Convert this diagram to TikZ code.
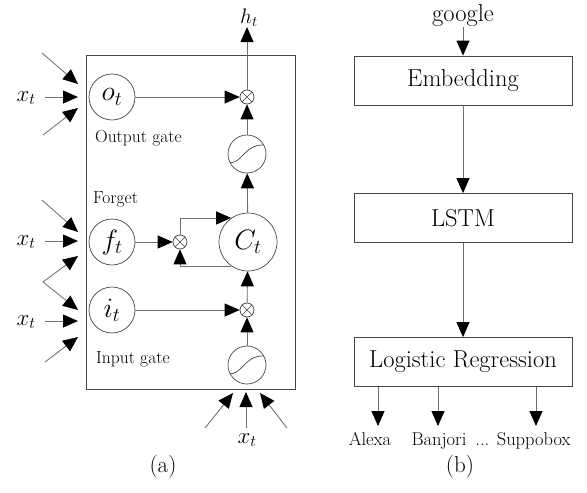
\RequirePackage{fix-cm}
\documentclass[tikz,border=0pt]{standalone}
\usetikzlibrary{arrows.meta}
\definecolor{linegray}{HTML}{707070}
\definecolor{edgegray}{HTML}{454545}

\begin{document}
\begin{tikzpicture}[x=1pt,y=-1pt,
  line/.style={draw=linegray, line width=0.85pt},
  arr/.style={line, -{Triangle[length=15pt,width=13pt,color=black]}},
  unit/.style={circle, draw=edgegray, line width=0.7pt, inner sep=0pt,
    minimum size=46pt, font=\fontsize{28}{32}\selectfont},
  cell/.style={unit, minimum size=58pt},
  mult/.style={circle, draw=edgegray, line width=0.7pt, inner sep=0pt,
    minimum size=14pt,
    path picture={\draw[edgegray, line width=0.6pt,
      shift={(path picture bounding box.center)}]
      (45:7pt) -- (225:7pt) (135:7pt) -- (315:7pt);}},
  sigm/.style={circle, draw=edgegray, line width=0.7pt, inner sep=0pt,
    minimum size=38pt,
    path picture={\draw[edgegray, line width=0.7pt,
      shift={(path picture bounding box.center)}]
      (-18pt,-9pt) .. controls (-4pt,-9pt) and (-3pt,9pt) .. (16pt,9pt);}},
  block/.style={draw=edgegray, line width=0.8pt, minimum width=218pt,
    minimum height=49pt, inner sep=0pt, font=\fontsize{24.5}{28}\selectfont},
  gatelbl/.style={anchor=base west, inner sep=0pt, font=\fontsize{17.5}{21}\selectfont},
  inlbl/.style={inner sep=0pt, font=\fontsize{23}{27}\selectfont},
  outlbl/.style={anchor=base, inner sep=0pt, font=\fontsize{18.5}{22}\selectfont},
  caplbl/.style={inner sep=0pt, font=\fontsize{23}{27}\selectfont}
]
\path[use as bounding box] (0,0) rectangle (587,493);

% ---------------- (a) LSTM cell ----------------
\node[draw=edgegray, line width=0.8pt, minimum width=209pt, minimum height=334pt,
  inner sep=0pt] (cellbox) at (190.5,222) {};

\node[unit] (ot) at (112,97) {$o_t$};
\node[unit] (ft) at (112,242) {$f_t$};
\node[unit] (it) at (112,310) {$i_t$};
\node[cell] (ct) at (248,242) {$C_t$};
\node[mult] (mo) at (247,97) {};
\node[mult] (mf) at (180,242) {};
\node[mult] (mi) at (247,310) {};
\node[sigm] (so) at (247,154) {};
\node[sigm] (si) at (247,365) {};

\node[gatelbl] (lo) at (95,142) {Output gate};
\node[gatelbl] (lf) at (93,203) {Forget};
\node[gatelbl] (li) at (96,363) {Input gate};

\node[inlbl, font=\fontsize{21}{25}\selectfont] (ht) at (249,18) {$h_t$};

% internal flow
\draw[arr] (ot) -- (mo);
\draw[arr] (mo.north) -- (mo.north |- ht.south);
\draw[arr] (so) -- (mo);
\draw[arr] (ct) -- (so);
\draw[arr] (ft) -- (mf);
\draw[arr] (mf.north) |- (ct.125);
\draw[arr] (ct.235) -| (mf.south);
\draw[arr] (it) -- (mi);
\draw[arr] (mi) -- (ct);
\draw[arr] (si) -- (mi);

% inputs x_t on the left
\node[inlbl] (xo) at (26,98) {$x_t$};
\node[inlbl] (xf) at (26,242) {$x_t$};
\node[inlbl] (xi) at (26,322) {$x_t$};

\coordinate (o1) at (42,53);   \coordinate (o1t) at (78,84);
\coordinate (o2t) at (78,97);
\coordinate (o3) at (43,135);  \coordinate (o3t) at (78,108);
\coordinate (f1) at (42,200);  \coordinate (f1t) at (78,232);
\coordinate (f2t) at (78,241);
\coordinate (fv) at (43,282);  \coordinate (f3t) at (78,256);
\coordinate (i1t) at (78,310);
\coordinate (i2t) at (78,321);
\coordinate (i3) at (45,362);  \coordinate (i3t) at (78,337);

\draw[arr] (o1) -- (o1t);
\draw[arr, shorten <=9pt] (xo.east |- o2t) -- (o2t);
\draw[arr] (o3) -- (o3t);
\draw[arr] (f1) -- (f1t);
\draw[arr, shorten <=9pt] (xf.east |- f2t) -- (f2t);
\draw[arr] (fv) -- (f3t);
\draw[arr] (fv) -- (i1t);
\draw[arr, shorten <=9pt] (xi.east |- i2t) -- (i2t);
\draw[arr] (i3) -- (i3t);

% inputs x_t at the bottom
\node[inlbl] (xb) at (247,440) {$x_t$};
\coordinate (b1) at (205,428); \coordinate (b1t) at (233,393);
\coordinate (b2) at (246,428); \coordinate (b2t) at (246,392);
\coordinate (b3) at (287,428); \coordinate (b3t) at (260,393);
\draw[arr] (b1) -- (b1t);
\draw[arr] (b2) -- (b2t);
\draw[arr] (b3) -- (b3t);

\node[caplbl] (capa) at (163,467) {(a)};

% ---------------- (b) pipeline ----------------
\node[inlbl, anchor=base, font=\fontsize{24.5}{28}\selectfont] (google) at (463,21.5) {google};
\node[block] (emb) at (463,80.5) {Embedding};
\node[block] (lstm) at (463,218) {LSTM};
\node[block] (lr) at (463,362) {Logistic Regression};

\draw[arr] (google) -- (emb);
\draw[arr] (emb) -- (lstm);
\draw[arr] (lstm) -- (lr);

\coordinate (a1) at (378,426);
\coordinate (a2) at (438,426);
\coordinate (a3) at (536,426);
\draw[arr] (a1 |- lr.south) -- (a1);
\draw[arr] (a2 |- lr.south) -- (a2);
\draw[arr] (a3 |- lr.south) -- (a3);

\node[outlbl] (alexa) at (370,445) {Alexa};
\node[outlbl] (banjori) at (439,445) {Banjori};
\node[outlbl] (suppobox) at (523,445) {... Suppobox};

\node[caplbl] (capb) at (460,467) {(b)};
\end{tikzpicture}
\end{document}
